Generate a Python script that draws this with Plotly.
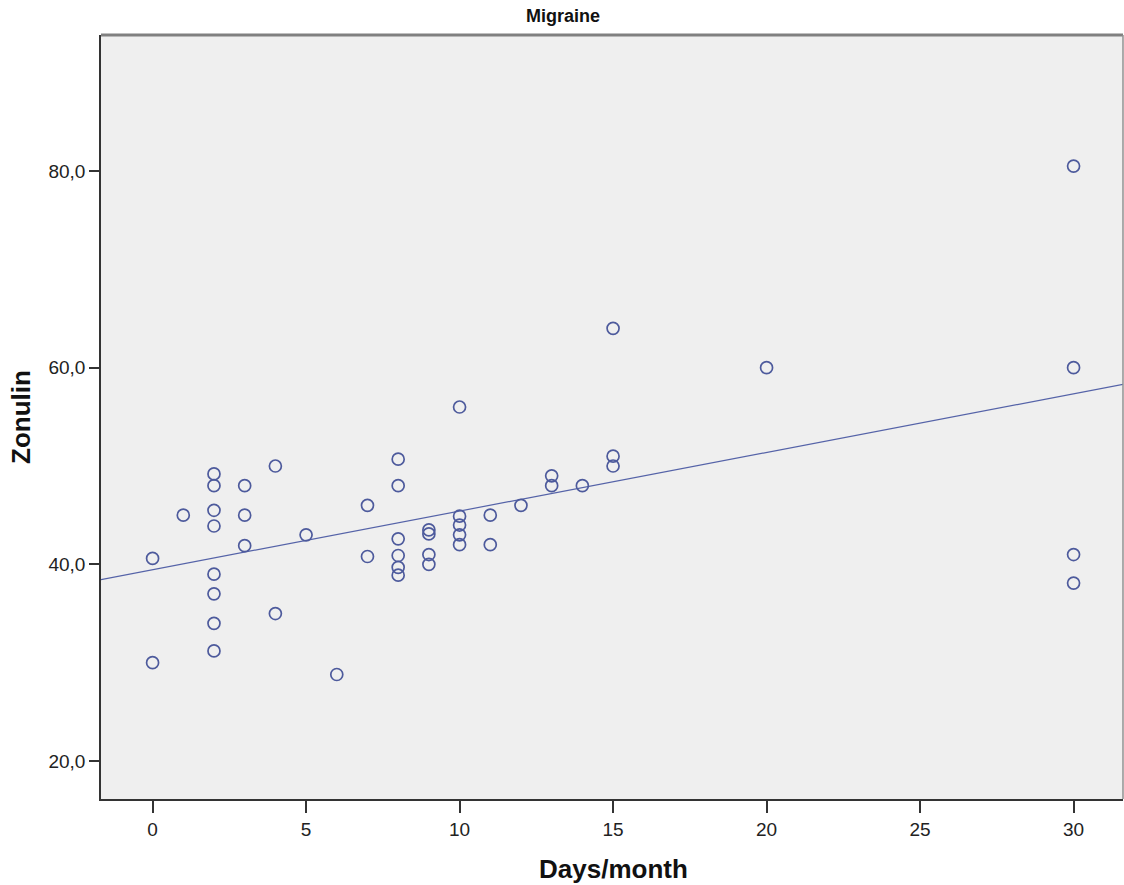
import numpy as np
import plotly.graph_objects as go

# Data
days = [0, 0,
        1,
        2, 2, 2, 2, 2, 2, 2, 2,
        3, 3, 3,
        4, 4,
        5,
        6,
        7, 7,
        8, 8, 8, 8, 8, 8,
        9, 9, 9, 9,
        10, 10, 10, 10, 10,
        11, 11,
        12,
        13, 13,
        14,
        15, 15, 15,
        20,
        30, 30, 30, 30]
zonulin = [40.6, 30.0,
           45.0,
           49.2, 48.0, 45.5, 43.9, 39.0, 37.0, 34.0, 31.2,
           48.0, 45.0, 41.9,
           50.0, 35.0,
           43.0,
           28.8,
           46.0, 40.8,
           50.7, 48.0, 42.6, 40.9, 39.7, 38.9,
           43.5, 43.1, 41.0, 40.0,
           56.0, 44.9, 44.0, 43.0, 42.0,
           45.0, 42.0,
           46.0,
           49.0, 48.0,
           48.0,
           64.0, 51.0, 50.0,
           60.0,
           80.5, 60.0, 41.0, 38.1]

x_ticks = [0, 5, 10, 15, 20, 25, 30]
y_ticks = [20, 40, 60, 80]
y_tick_labels = ["20,0", "40,0", "60,0", "80,0"]

x_range = [-1.68, 31.61]
y_range = [16.14, 93.83]

# Linear fit (least squares)
slope, intercept = np.polyfit(np.array(days, float), np.array(zonulin, float), 1)
fit_x = np.array(x_range)
fit_y = intercept + slope * fit_x

mark_color = "#4d5a9c"

fig = go.Figure()
fig.add_trace(go.Scatter(
    x=fit_x, y=fit_y, mode="lines",
    line=dict(color="#5563a8", width=1.2),
    hoverinfo="skip", showlegend=False))
fig.add_trace(go.Scatter(
    x=days, y=zonulin, mode="markers",
    marker=dict(symbol="circle-open", size=12,
                line=dict(color=mark_color, width=1.7), color=mark_color),
    showlegend=False))

fig.update_layout(
    width=1124, height=885,
    margin=dict(l=101, r=1, t=35, b=86),
    paper_bgcolor="white",
    plot_bgcolor="#efefef",
    font=dict(family="Arial, Liberation Sans, sans-serif", color="#222"),
    showlegend=False,
)

fig.update_xaxes(
    range=x_range, tickvals=x_ticks, ticktext=[str(v) for v in x_ticks],
    showgrid=False, zeroline=False,
    showline=True, linecolor="#333", linewidth=1.5,
    ticks="outside", ticklen=12, tickwidth=2, tickcolor="#333",
    tickfont=dict(size=19, color="#222"),
)
fig.update_yaxes(
    range=y_range, tickvals=y_ticks, ticktext=y_tick_labels,
    showgrid=False, zeroline=False,
    showline=True, linecolor="#333", linewidth=1.5,
    ticks="outside", ticklen=10, tickwidth=1.5, tickcolor="#333",
    tickfont=dict(size=19, color="#222"),
)

# frame top and right
fig.add_shape(type="line", xref="paper", yref="paper", x0=0, x1=1, y0=1, y1=1,
              line=dict(color="#808080", width=3))
fig.add_shape(type="line", xref="paper", yref="paper", x0=1, x1=1, y0=0, y1=1,
              line=dict(color="#909090", width=1.5))

# Titles
fig.add_annotation(text="<b>Migraine</b>", xref="paper", yref="paper",
                   x=0.452, y=1, yshift=19, xanchor="center", yanchor="middle",
                   showarrow=False, font=dict(size=18, color="#111"))
fig.add_annotation(text="<b>Days/month</b>", xref="paper", yref="paper",
                   x=0.501, y=0, yshift=-70, xanchor="center", yanchor="middle",
                   showarrow=False, font=dict(size=26, color="#111"))
fig.add_annotation(text="<b>Zonulin</b>", xref="paper", yref="paper",
                   x=0, xshift=-80, y=0.5, xanchor="center", yanchor="middle",
                   showarrow=False, textangle=-90,
                   font=dict(size=26, color="#111"))

fig.write_html(
    "out.html",
    config={"displayModeBar": False},
    post_script="document.body.style.margin='0';document.body.style.overflow='hidden';",
)
